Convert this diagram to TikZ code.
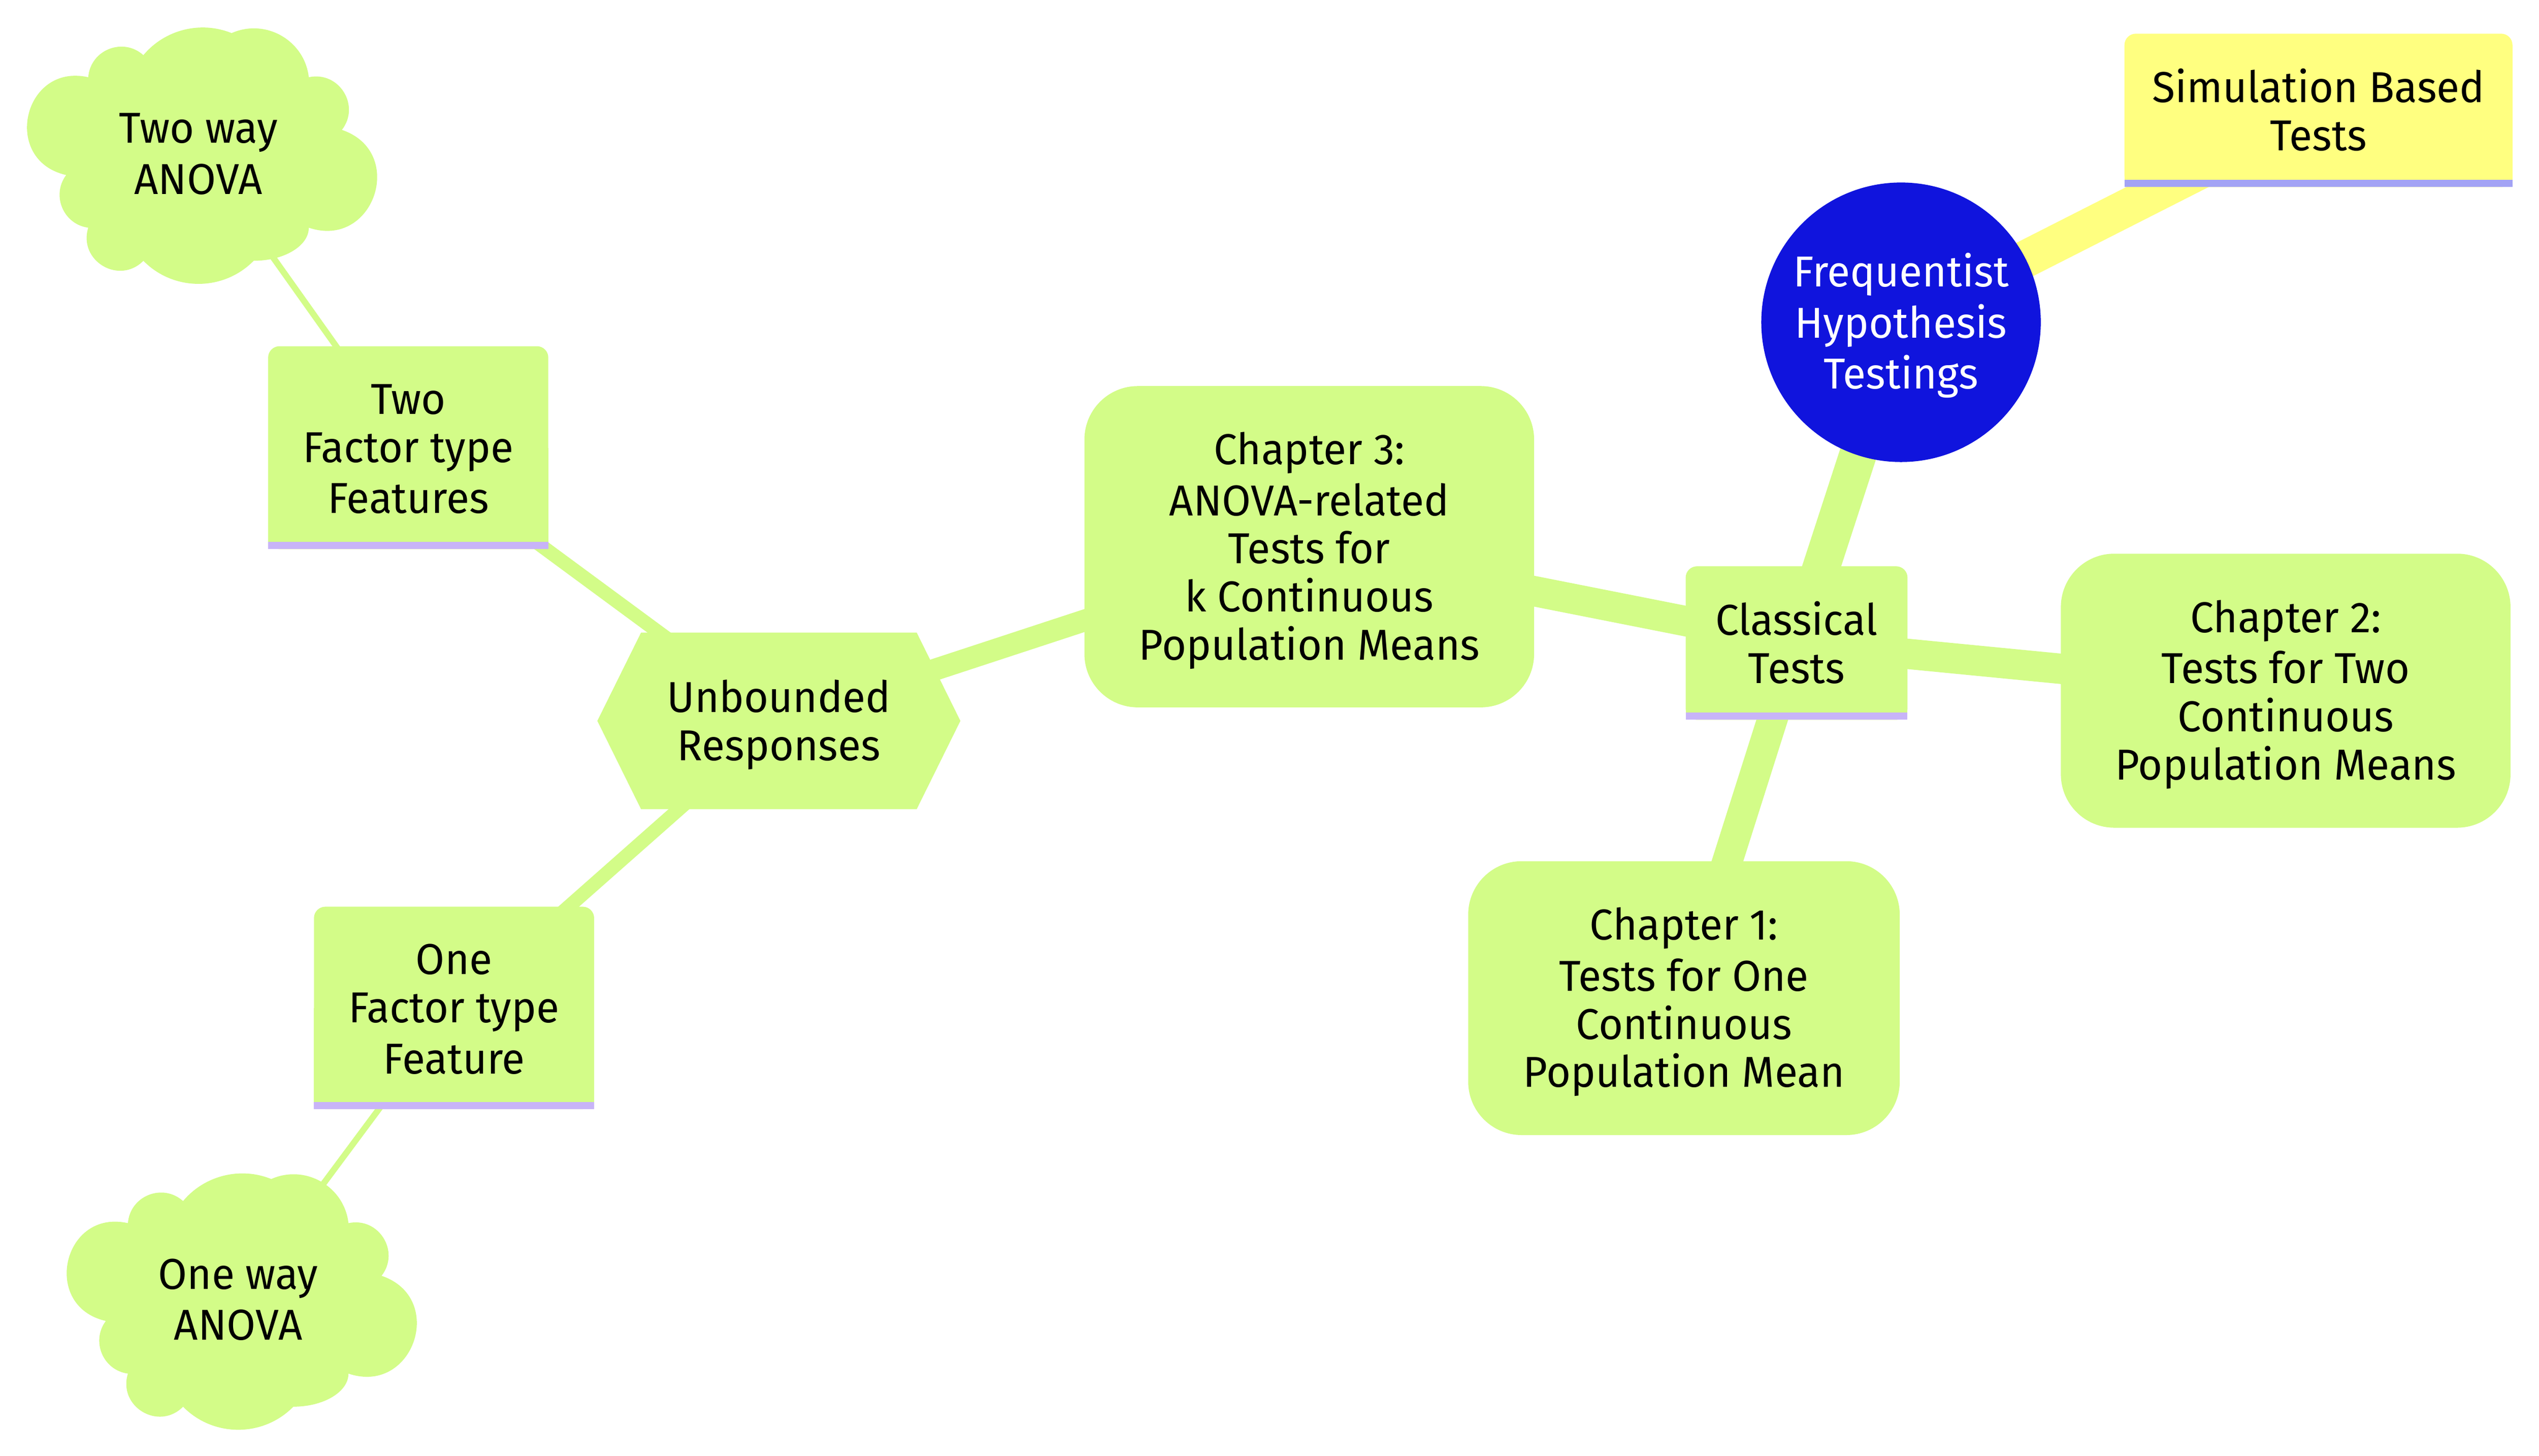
\documentclass[tikz,border=0pt]{standalone}
\usepackage{fontspec}
\setmainfont{Fira Sans}[FakeStretch=0.97]
\usetikzlibrary{calc}
\pgfdeclarelayer{bgl}
\pgfdeclarelayer{edges}
\pgfdeclarelayer{shapes}
\pgfsetlayers{bgl,edges,shapes,main}
\definecolor{mmgreen}{HTML}{D3FC88}
\definecolor{mmyellow}{HTML}{FFFF80}
\definecolor{mmblue}{HTML}{1014DD}
\definecolor{lineyel}{HTML}{A3A3F5}
\definecolor{linegrn}{HTML}{C8B4F8}
\newcommand\tstrut{\rule[-4.9pt]{0pt}{29.7pt}}
\newcommand\mmcloud[2]{%
  \begin{scope}[shift={(#1.north west)}]
    \fill[#2] (0,0)
      to[bend left=63.83,looseness=1.182] (34.05,-13.62)
      to[bend left=36.09,looseness=0.942] (88.53,-27.24)
      to[bend left=53.73,looseness=1.070] (136.2,0)
      to[bend left=70.0,looseness=1.269] (156.63,32.515)
      to[bend left=90,looseness=1.703] (136.2,92.9)
      .. controls (136.2,104.18) and (120.96,113.33) .. (102.15,113.33)
      to[bend left=45.58,looseness=1.002] (34.05,113.33)
      to[bend left=76.35,looseness=1.378] (0,92.9)
      to[bend left=59.63,looseness=1.131] (-13.62,60.385)
      to[bend left=90,looseness=1.703] (0,0) -- cycle;
  \end{scope}}
\newcommand\mmbar[3]{% node, fill colour, line colour
  \fill[#2, rounded corners=7pt] (#1.south west) rectangle (#1.north east);
  \fill[#2] (#1.south west) rectangle (#1.east);
  \draw[barline, #3] ([yshift=2.2pt]#1.south west) -- ([yshift=2.2pt]#1.south east);}
\begin{document}
\begin{tikzpicture}[x=1pt,y=-1pt,
  basenode/.style={font=\fontsize{26.7pt}{29.7pt}\selectfont, align=center,
    inner sep=0pt, outer sep=0pt, text=black},
  rootnode/.style={basenode, circle, fill=mmblue, text=white, minimum size=172.6pt},
  chapnode/.style={basenode, rectangle, rounded corners=33pt, fill=mmgreen},
  plainnode/.style={basenode, rectangle},
  edgeA/.style={line width=23pt},
  edgeB/.style={line width=18.7pt},
  edgeC/.style={line width=13.5pt},
  edgeD/.style={line width=8.5pt},
  edgeE/.style={line width=3.8pt},
  barline/.style={line width=4.4pt}]

\useasboundingbox (0,0) rectangle (1568,898.9);
\begin{pgfonlayer}{bgl}
  \fill[white] (0,0) rectangle (1568,898.9);
\end{pgfonlayer}

% nodes
\node[rootnode] (root) at (1174,199)
  {\tstrut Frequentist\\\tstrut Hypothesis\\\tstrut Testings};
\node[plainnode, minimum width=239.6pt, minimum height=94.75pt] (sim) at (1431.8,68.175)
  {\tstrut Simulation Based\\\tstrut Tests};
\node[plainnode, minimum width=137pt, minimum height=94.8pt] (classical) at (1109.5,397.1)
  {\tstrut Classical\\\tstrut Tests};
\node[chapnode, minimum width=277.7pt, minimum height=169.2pt] (ch2) at (1411.55,426.5)
  {\tstrut Chapter 2:\\\tstrut Tests for Two\\\tstrut Continuous\\\tstrut Population Means};
\node[chapnode, minimum width=266.5pt, minimum height=169.1pt] (ch1) at (1039.95,616.35)
  {\tstrut Chapter 1:\\\tstrut Tests for One\\\tstrut Continuous\\\tstrut Population Mean};
\node[chapnode, minimum width=277.7pt, minimum height=198.4pt] (ch3) at (808.55,337.6)
  {\tstrut Chapter 3:\\\tstrut ANOVA-related\\\tstrut Tests for\\\tstrut k Continuous\\\tstrut Population Means};
\node[plainnode, minimum width=224.2pt, minimum height=109.1pt] (unb) at (481.0,445.15)
  {\tstrut Unbounded\\\tstrut Responses};
\node[plainnode, minimum width=173pt, minimum height=125.3pt] (two) at (252.1,276.45)
  {\tstrut Two\\\tstrut Factor type\\\tstrut Features};
\node[plainnode, minimum width=173pt, minimum height=125pt] (one) at (280.4,622.4)
  {\tstrut One\\\tstrut Factor type\\\tstrut Feature};
\node[plainnode, minimum width=136.2pt, minimum height=92.9pt] (c2) at (122.6,94.15)
  {\tstrut Two way\\\tstrut ANOVA};
\node[plainnode, minimum width=136.2pt, minimum height=92.9pt] (c1) at (147.1,801.75)
  {\tstrut One way\\\tstrut ANOVA};

% connectors
\begin{pgfonlayer}{edges}
  \draw[edgeA, mmyellow] (root.center) -- (sim.center);
  \draw[edgeA, mmgreen] (root.center) -- (classical.center);
  \draw[edgeB, mmgreen] (classical.center) -- (ch2.center);
  \draw[edgeB, mmgreen] (classical.center) -- (ch1.center);
  \draw[edgeB, mmgreen] (classical.center) -- (ch3.center);
  \draw[edgeC, mmgreen] (ch3.center) -- (unb.center);
  \draw[edgeD, mmgreen] (unb.center) -- (two.center);
  \draw[edgeD, mmgreen] (unb.center) -- (one.center);
  \draw[edgeE, mmgreen] (two.center) -- (c2.center);
  \draw[edgeE, mmgreen] (one.center) -- (c1.center);
\end{pgfonlayer}

% custom node shapes
\begin{pgfonlayer}{shapes}
  \mmbar{sim}{mmyellow}{lineyel}
  \mmbar{classical}{mmgreen}{linegrn}
  \mmbar{two}{mmgreen}{linegrn}
  \mmbar{one}{mmgreen}{linegrn}
  \fill[mmgreen] (unb.west) -- ([xshift=27pt]unb.north west) -- ([xshift=-27pt]unb.north east)
    -- (unb.east) -- ([xshift=-27pt]unb.south east) -- ([xshift=27pt]unb.south west) -- cycle;
  \mmcloud{c2}{mmgreen}
  \mmcloud{c1}{mmgreen}
\end{pgfonlayer}
\end{tikzpicture}
\end{document}
